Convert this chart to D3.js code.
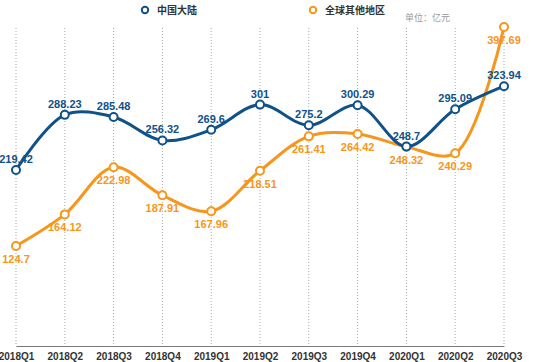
<!DOCTYPE html>
<html>
<head>
<meta charset="utf-8">
<script src="https://cdn.jsdelivr.net/npm/d3@7"></script>
<style>
  body { margin: 0; background: #fff; }
  text { font-family: "Liberation Sans", Arial, sans-serif; }
</style>
</head>
<body>
<svg id="chart" width="550" height="362"></svg>
<script>
// quarters and revenue (亿元)
const quarters = ['2018Q1','2018Q2','2018Q3','2018Q4','2019Q1','2019Q2','2019Q3','2019Q4','2020Q1','2020Q2','2020Q3']
const mainland = [219.42, 288.23, 285.48, 256.32, 269.6, 301, 275.2, 300.29, 248.7, 295.09, 323.94]
const overseas = [124.7, 164.12, 222.98, 187.91, 167.96, 218.51, 261.41, 264.42, 248.32, 240.29, 397.69]
const seriesNames = ['中国大陆', '全球其他地区']

const blue = '#0f5189', orange = '#f7961c'

const svg = d3.select('#chart')

const x = d3.scalePoint().domain(quarters).range([16, 504])
const y = d3.scaleLinear().domain([0, 400]).range([346, 25.2])

// dotted vertical grid
svg.append('g').selectAll('line')
  .data(quarters).enter().append('line')
  .attr('x1', d => x(d)).attr('x2', d => x(d))
  .attr('y1', 28).attr('y2', 346)
  .attr('stroke', '#aaa').attr('stroke-width', 1)
  .attr('stroke-dasharray', '1,2')

// x axis
const xAxis = svg.append('g').attr('transform', 'translate(0,346)')
  .call(d3.axisBottom(x).tickSize(0).tickPadding(7))
xAxis.select('.domain').attr('stroke', '#777').attr('stroke-width', 1.2)
xAxis.selectAll('text')
  .attr('font-size', 10).attr('font-weight', 'bold').attr('fill', '#333')
  .style('font-family', '"Liberation Sans", Arial, sans-serif')

const line = d3.line()
  .x((d, i) => x(quarters[i]))
  .y(d => y(d))
  .curve(d3.curveCatmullRom.alpha(0.5))

function drawSeries(vals, color, above) {
  svg.append('path')
    .attr('d', line(vals))
    .attr('fill', 'none')
    .attr('stroke', color)
    .attr('stroke-width', 3)

  svg.append('g').selectAll('circle')
    .data(vals).enter().append('circle')
    .attr('cx', (d, i) => x(quarters[i]))
    .attr('cy', d => y(d))
    .attr('r', 4)
    .attr('fill', '#fff')
    .attr('stroke', color)
    .attr('stroke-width', 2)

  svg.append('g').selectAll('text')
    .data(vals).enter().append('text')
    .attr('x', (d, i) => x(quarters[i]))
    .attr('y', d => above ? y(d) - 7 : y(d) + 17)
    .attr('text-anchor', 'middle')
    .attr('font-size', 11)
    .attr('font-weight', 'bold')
    .attr('fill', color)
    .text(d => d)
}

drawSeries(overseas, orange, false)
drawSeries(mainland, blue, true)

// legend
const legend = [{ name: seriesNames[0], color: blue, x: 145 }, { name: seriesNames[1], color: orange, x: 313 }]
legend.forEach(l => {
  svg.append('circle')
    .attr('cx', l.x).attr('cy', 10).attr('r', 3.2)
    .attr('fill', '#fff').attr('stroke', l.color).attr('stroke-width', 2)
  svg.append('text')
    .attr('x', l.x + 12).attr('y', 14)
    .attr('font-size', 10).attr('font-weight', 'bold').attr('fill', '#333')
    .style('font-family', '"Noto Sans CJK SC", sans-serif')
    .text(l.name)
})

svg.append('text')
  .attr('x', 405).attr('y', 21)
  .attr('font-size', 9).attr('fill', '#999')
  .style('font-family', '"Noto Sans CJK SC", sans-serif')
  .text('单位：亿元')
</script>
</body>
</html>
